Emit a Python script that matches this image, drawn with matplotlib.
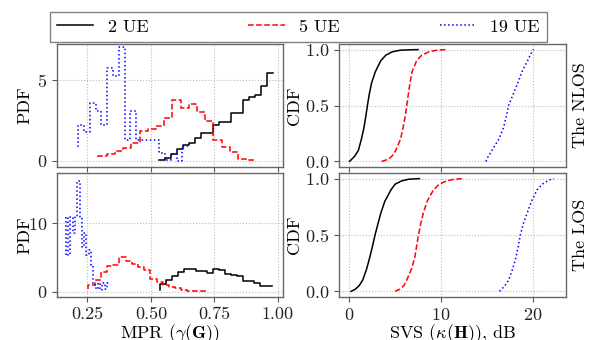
import numpy as np
import matplotlib
matplotlib.use('Agg')
import matplotlib.pyplot as plt

plt.rcParams['font.family'] = 'serif'
plt.rcParams['font.serif'] = ['cmr10']
plt.rcParams['mathtext.fontset'] = 'cm'
plt.rcParams['axes.formatter.use_mathtext'] = True
plt.rcParams['font.size'] = 13

ue_labels = ['2 UE', '5 UE', '19 UE']
colors = ['k', 'r', 'b']
styles = ['-', '--', ':']

# MPR histograms (PDF), first value is the start point of the step line
mpr_nlos_2ue = [0.05, 0.08, 0.19, 0.45, 0.76, 0.97, 1.12, 1.39, 1.7, 1.72,
                2.22, 2.43, 2.4, 2.94, 2.97, 3.77, 3.95, 4.08, 4.6, 5.43]
mpr_nlos_5ue = [0.25, 0.28, 0.45, 0.6, 0.81, 1.08, 1.87, 1.95, 2.15, 2.63,
                3.77, 3.25, 3.5, 3.04, 2.46, 1.28, 0.87, 0.56, 0.14, 0.08]
mpr_nlos_19ue = [0.87, 2.2, 1.77, 3.55, 3.1, 2.2, 5.7, 5.25, 7.0, 1.32,
                 3.1, 1.32, 1.32, 1.32, 1.32, 0.49, 0.08, 0.45, 0.0, 0.9]
mpr_los_2ue = [0.25, 1.06, 1.7, 2.27, 2.86, 3.25, 3.25, 3.0, 3.0, 2.7,
               3.33, 3.1, 2.6, 2.4, 2.2, 1.6, 1.6, 1.3, 0.8, 0.8]
mpr_los_5ue = [0.4, 1.0, 1.7, 2.9, 3.7, 3.9, 5.1, 4.4, 4.0, 3.6,
               3.1, 1.8, 1.4, 0.9, 0.6, 0.5, 0.25, 0.1, 0.05, 0.05]
mpr_los_19ue = [5.4, 10.9, 5.4, 10.9, 8.5, 11.0, 16.2, 10.9, 6.5, 8.5,
                5.4, 6.0, 3.9, 1.0, 0.3, 1.3, 0.2, 1.3, 0.3, 1.2]

# MPR range (first, last bin) of each histogram
mpr_nlos_ranges = [(0.530, 0.9795), (0.2934, 0.9077), (0.2133, 0.647)]
mpr_los_ranges = [(0.5367, 0.977), (0.254, 0.717), (0.165, 0.336)]

# SVS CDFs, given as SVS value (dB) at each CDF level
cdf_levels = [0, 0.02, 0.05, 0.1, 0.2, 0.3, 0.4, 0.5, 0.6, 0.7, 0.8, 0.9,
              0.95, 0.98, 0.995, 1.0]
svs_nlos_2ue = [0.05, 0.3, 0.65, 1.02, 1.35, 1.62, 1.82, 2.0, 2.2, 2.45,
                2.85, 3.45, 4.0, 4.7, 5.6, 7.5]
svs_nlos_5ue = [3.55, 4.3, 4.7, 5.1, 5.6, 5.88, 6.1, 6.28, 6.45, 6.63,
                6.85, 7.35, 7.9, 8.7, 9.6, 10.6]
svs_nlos_19ue = [14.9, 14.95, 15.2, 15.55, 16.3, 16.8, 17.1, 17.36, 17.85,
                 18.35, 18.8, 19.42, 19.7, 19.9, 20.0, 20.08]
svs_los_2ue = [0.22, 0.7, 1.1, 1.49, 1.92, 2.25, 2.55, 2.83, 3.15, 3.48,
               3.9, 4.56, 5.0, 5.72, 6.5, 7.66]
svs_los_5ue = [5.0, 5.55, 5.95, 6.28, 6.8, 7.15, 7.35, 7.55, 7.8, 8.1,
               8.5, 9.18, 9.8, 10.6, 11.5, 12.4]
svs_los_19ue = [16.37, 16.6, 16.95, 17.36, 17.8, 18.15, 18.4, 18.63, 18.95,
                19.4, 19.85, 20.45, 21.0, 21.6, 22.0, 22.27]

fig = plt.figure(figsize=(5.9, 3.4), dpi=100)
W, H = 590.0, 340.0


def px_axes(x0, y0, x1, y1):
    return fig.add_axes([x0 / W, 1 - y1 / H, (x1 - x0) / W, (y1 - y0) / H])


ax_pn = px_axes(57, 44, 283, 167)
ax_pl = px_axes(57, 173, 283, 297)
ax_cn = px_axes(339, 44, 566, 167)
ax_cl = px_axes(339, 173, 566, 297)

for ax in [ax_pn, ax_pl, ax_cn, ax_cl]:
    ax.grid(True, ls=':', lw=0.8, color='#bbbbbb')
    ax.set_axisbelow(True)
    for s in ax.spines.values():
        s.set_color('#666666')
        s.set_linewidth(1.0)
    ax.tick_params(colors='#555555', labelcolor='#222222')

# PDF panels
hists = [(ax_pn, [mpr_nlos_2ue, mpr_nlos_5ue, mpr_nlos_19ue], mpr_nlos_ranges),
         (ax_pl, [mpr_los_2ue, mpr_los_5ue, mpr_los_19ue], mpr_los_ranges)]
for ax, data, ranges in hists:
    for vals, (lo, hi), c, ls, lab in zip(data, ranges, colors, styles, ue_labels):
        xs = np.linspace(lo, hi, len(vals))
        ax.step(xs, vals, where='pre', color=c, ls=ls, lw=1.1, label=lab)
    ax.set_xlim(0.13, 1.02)
    ax.set_xticks([0.25, 0.5, 0.75, 1.0])
    ax.set_ylabel('PDF')
    ax.yaxis.set_label_coords(-0.108, 0.5)

ax_pn.set_ylim(-0.37, 7.2)
ax_pn.set_yticks([0, 5])
ax_pn.tick_params(labelbottom=False)
ax_pl.set_ylim(-0.8, 17.3)
ax_pl.set_yticks([0, 10])
ax_pl.set_xticklabels(['0.25', '0.50', '0.75', '1.00'])
ax_pl.set_xlabel(r'MPR ($\gamma(\mathbf{G})$)', labelpad=0)

# CDF panels
cdfs = [(ax_cn, [svs_nlos_2ue, svs_nlos_5ue, svs_nlos_19ue], 'The NLOS'),
        (ax_cl, [svs_los_2ue, svs_los_5ue, svs_los_19ue], 'The LOS')]
for ax, data, name in cdfs:
    for vals, c, ls in zip(data, colors, styles):
        ax.plot(vals, cdf_levels, color=c, ls=ls, lw=1.1)
    ax.set_xlim(-1.09, 23.6)
    ax.set_ylim(-0.05, 1.05)
    ax.set_xticks([0, 10, 20])
    ax.set_yticks([0.0, 0.5, 1.0])
    ax.set_ylabel('CDF')
    ax.yaxis.set_label_coords(-0.164, 0.5)
    ax.text(1.03, 0.5, name, transform=ax.transAxes, rotation=90,
            ha='left', va='center')

ax_cn.tick_params(labelbottom=False)
ax_cl.set_xlabel(r'SVS ($\kappa(\mathbf{H})$), dB', labelpad=0)

handles, labels = ax_pn.get_legend_handles_labels()
leg = fig.legend(handles, labels, loc='lower left', ncol=3, mode='expand',
                 bbox_to_anchor=(50 / W, 1 - 42 / H, 497 / W, 0.0),
                 fancybox=False, framealpha=1, edgecolor='#808080',
                 borderaxespad=0.0, fontsize=13)
leg.get_frame().set_linewidth(1.0)

fig.savefig('out.png', dpi=100)
